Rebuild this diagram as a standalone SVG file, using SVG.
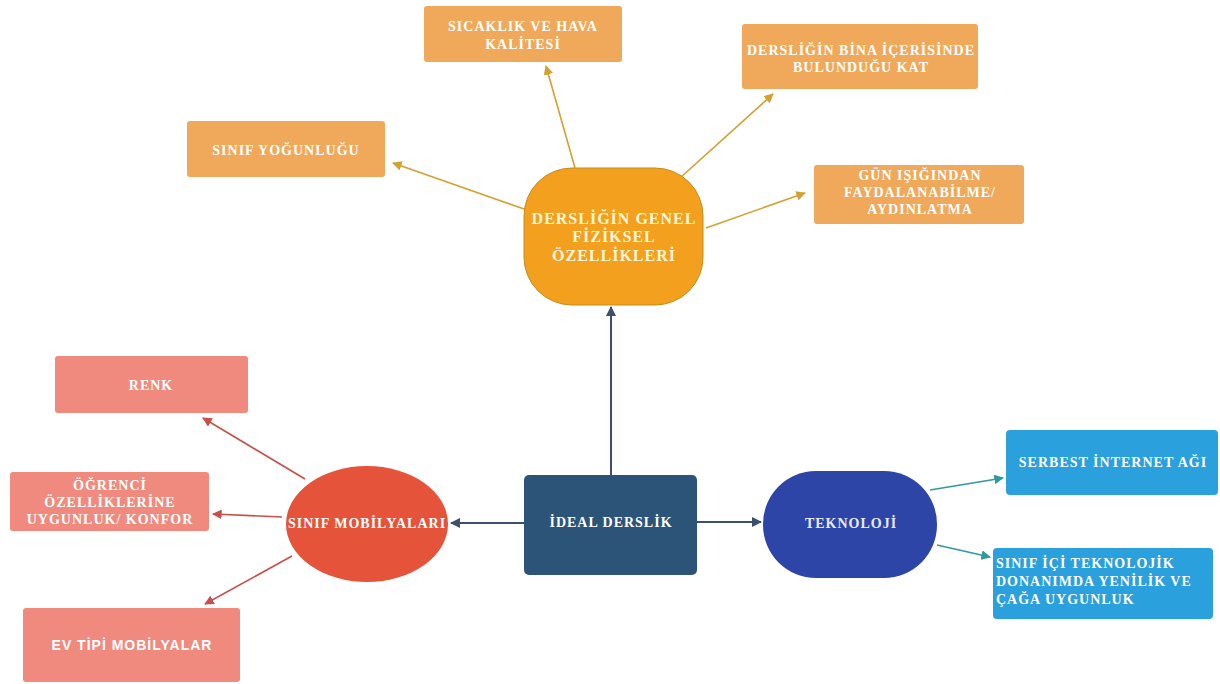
<svg xmlns="http://www.w3.org/2000/svg" width="1220" height="684" viewBox="0 0 1220 684">
<defs>
<style>
.t{font-family:"Liberation Serif","Times New Roman",serif;font-weight:bold;fill:#ffffff;text-anchor:middle;dominant-baseline:central}
.s{font-size:14px;letter-spacing:1px}
.ob{fill:#f0a95a}
.rb{fill:#f08a7e}
.bb{fill:#2aa0dc}
.co{stroke:#d4a030;stroke-width:1.6;fill:none;marker-end:url(#ao)}
.cr{stroke:#c8504a;stroke-width:1.6;fill:none;marker-end:url(#ar)}
.cb{stroke:#2e9aa0;stroke-width:1.6;fill:none;marker-end:url(#ab)}
.cd{stroke:#3d4f6e;stroke-width:2;fill:none;marker-end:url(#ad)}
</style>
<marker id="ao" viewBox="0 0 10 10" refX="9" refY="5" markerWidth="6" markerHeight="6" orient="auto"><path d="M0,0 L10,5 L0,10 z" fill="#d4a030"/></marker>
<marker id="ar" viewBox="0 0 10 10" refX="9" refY="5" markerWidth="6" markerHeight="6" orient="auto"><path d="M0,0 L10,5 L0,10 z" fill="#c8504a"/></marker>
<marker id="ab" viewBox="0 0 10 10" refX="9" refY="5" markerWidth="6" markerHeight="6" orient="auto"><path d="M0,0 L10,5 L0,10 z" fill="#2e9aa0"/></marker>
<marker id="ad" viewBox="0 0 10 10" refX="9" refY="5" markerWidth="5" markerHeight="5" orient="auto"><path d="M0,0 L10,5 L0,10 z" fill="#3d4f6e"/></marker>
</defs>
<rect width="1220" height="684" fill="#ffffff"/>
<g id="connectors">
<line class="cd" x1="611" y1="475" x2="611" y2="307"/>
<line class="cd" x1="524" y1="523" x2="451" y2="523"/>
<line class="cd" x1="697" y1="522" x2="761" y2="522"/>
<line class="co" x1="575" y1="168" x2="546" y2="66"/>
<line class="co" x1="680" y1="178" x2="773" y2="94"/>
<line class="co" x1="527" y1="210" x2="393" y2="163"/>
<line class="co" x1="706" y1="228" x2="805" y2="193"/>
<line class="cr" x1="305" y1="479" x2="203" y2="418"/>
<line class="cr" x1="282" y1="517" x2="213" y2="514"/>
<line class="cr" x1="292" y1="556" x2="205" y2="604"/>
<line class="cb" x1="930" y1="490" x2="1003" y2="478"/>
<line class="cb" x1="937" y1="545" x2="990" y2="557"/>
</g>
<g id="ideal"><rect x="524" y="475" width="173" height="100" rx="5" fill="#2b5478"/><text class="t s" x="611" y="522">İDEAL DERSLİK</text></g>
<g id="genel"><rect x="524" y="168" width="179" height="137" rx="48" fill="#f2a01e" stroke="#c98a1a" stroke-width="1"/><text class="t" font-size="16" letter-spacing="1" style="fill:#fff6d8"><tspan x="614" y="218">DERSLİĞİN GENEL</tspan><tspan x="614" y="236">FİZİKSEL</tspan><tspan x="614" y="255">ÖZELLİKLERİ</tspan></text></g>
<g id="sicaklik"><rect class="ob" x="424" y="6" width="198" height="56" rx="3"/><text class="t s"><tspan x="523" y="26">SICAKLIK VE HAVA</tspan><tspan x="523" y="44">KALİTESİ</tspan></text></g>
<g id="bina"><rect class="ob" x="742" y="24" width="236" height="65" rx="3"/><text class="t s"><tspan x="861" y="50">DERSLİĞİN BİNA İÇERİSİNDE</tspan><tspan x="861" y="67">BULUNDUĞU KAT</tspan></text></g>
<g id="yogunluk"><rect class="ob" x="187" y="121" width="198" height="56" rx="3"/><text class="t s" x="286" y="150">SINIF YOĞUNLUĞU</text></g>
<g id="gunisigi"><rect class="ob" x="814" y="165" width="210" height="59" rx="3"/><text class="t s"><tspan x="920" y="175">GÜN IŞIĞINDAN</tspan><tspan x="920" y="192">FAYDALANABİLME/</tspan><tspan x="920" y="209">AYDINLATMA</tspan></text></g>
<g id="mobilya"><ellipse cx="367" cy="524" rx="81" ry="58" fill="#e5533a"/><text class="t s" x="367" y="523">SINIF MOBİLYALARI</text></g>
<g id="renk"><rect class="rb" x="55" y="356" width="193" height="57" rx="3"/><text class="t s" x="151" y="385">RENK</text></g>
<g id="ogrenci"><rect class="rb" x="10" y="472" width="199" height="59" rx="3"/><text class="t s"><tspan x="110" y="485">ÖĞRENCİ</tspan><tspan x="110" y="502">ÖZELLİKLERİNE</tspan><tspan x="110" y="519">UYGUNLUK/ KONFOR</tspan></text></g>
<g id="evtipi"><rect class="rb" x="23" y="608" width="217" height="74" rx="3"/><text class="t s" x="132" y="645" style="font-family:'Liberation Sans',Arial,sans-serif">EV TİPİ MOBİLYALAR</text></g>
<g id="teknoloji"><rect x="763" y="471" width="174" height="107" rx="53" fill="#2e45a8"/><text class="t s" x="851" y="523" style="fill:#e6ecff">TEKNOLOJİ</text></g>
<g id="internet"><rect class="bb" x="1006" y="430" width="212" height="65" rx="4"/><text class="t s" x="1113" y="462">SERBEST İNTERNET AĞI</text></g>
<g id="donanim"><rect class="bb" x="993" y="548" width="220" height="71" rx="4"/><text class="t s" style="text-anchor:start"><tspan x="996" y="563">SINIF İÇİ TEKNOLOJİK</tspan><tspan x="996" y="581">DONANIMDA YENİLİK VE</tspan><tspan x="996" y="599">ÇAĞA UYGUNLUK</tspan></text></g>
</svg>
